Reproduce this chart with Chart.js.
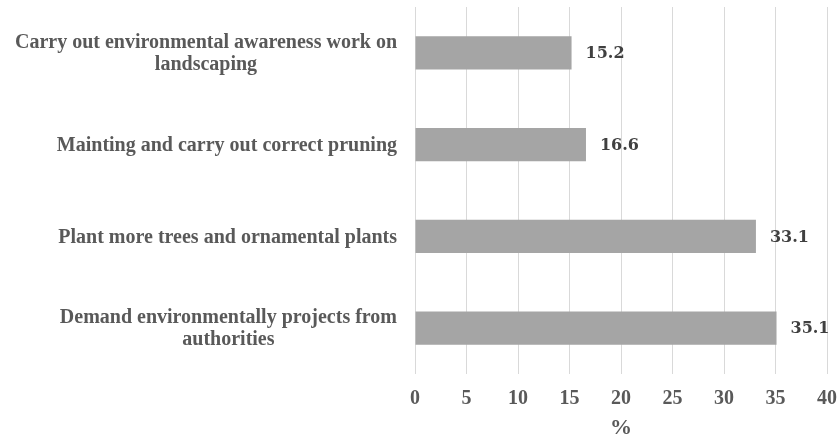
<!DOCTYPE html>
<html lang="en">
<head>
    <meta charset="UTF-8">
    <title>Actions</title>
    <script src="https://cdn.jsdelivr.net/npm/chart.js@4"></script>
    <style>
        body { margin: 0; background: #fff; }
    </style>
</head>
<body>
    <canvas id="bars" width="837" height="442"></canvas>
<script>
    // categories (top to bottom), each line of a label as its own string
    var actions = [
        ["Carry out environmental awareness work on", "landscaping"],
        ["Mainting and carry out correct pruning"],
        ["Plant more trees and ornamental plants"],
        ["Demand environmentally projects from", "authorities"]
    ];
    var percents = [15.2, 16.6, 33.1, 35.1];
    var xTicks = [0, 5, 10, 15, 20, 25, 30, 35, 40];

    var labelFont = "bold 20px 'Liberation Serif', 'Times New Roman', serif";
    var valueFont = "bold 16px 'DejaVu Serif', serif";

    // category labels: lines centred on each other, block right-aligned to the axis
    var catLabels = {
        id: 'catLabels',
        afterDraw(chart) {
            var c = chart.ctx, y = chart.scales.y;
            var right = chart.chartArea.left - 18, lh = 22;
            c.save();
            c.font = labelFont;
            c.fillStyle = '#595959';
            c.textBaseline = 'middle';
            c.textAlign = 'center';
            actions.forEach(function (lines, i) {
                var w = Math.max.apply(null, lines.map(function (s) { return c.measureText(s).width; }));
                var cx = right - w / 2;
                var cy = y.getPixelForValue(i) + 1;
                var y0 = cy - (lines.length - 1) * lh / 2;
                lines.forEach(function (s, k) { c.fillText(s, cx, y0 + k * lh); });
            });
            c.restore();
        }
    };

    // value next to each bar end
    var valueLabels = {
        id: 'valueLabels',
        afterDatasetsDraw(chart) {
            var c = chart.ctx;
            c.save();
            c.font = valueFont;
            c.fillStyle = '#404040';
            c.textBaseline = 'middle';
            c.textAlign = 'left';
            chart.getDatasetMeta(0).data.forEach(function (bar, i) {
                c.fillText(percents[i].toFixed(1), bar.x + 14, bar.y + 1);
            });
            c.restore();
        }
    };

    new Chart(document.getElementById('bars'), {
        type: 'bar',
        data: {
            labels: actions,
            datasets: [{
                data: percents,
                backgroundColor: '#a5a5a5',
                barPercentage: 0.36,
                categoryPercentage: 1
            }]
        },
        options: {
            indexAxis: 'y',
            responsive: false,
            animation: false,
            layout: { padding: { top: 7, right: 0, left: 0, bottom: 0 } },
            plugins: { legend: { display: false }, tooltip: { enabled: false } },
            scales: {
                x: {
                    min: 0,
                    max: 40,
                    afterBuildTicks(scale) { scale.ticks = xTicks.map(function (v) { return { value: v }; }); },
                    afterFit(scale) {
                        scale.height = 68;
                        scale.paddingLeft = 0;
                        scale.paddingRight = 10;
                    },
                    grid: { color: '#d9d9d9', lineWidth: 1, drawTicks: false },
                    border: { display: false },
                    ticks: {
                        padding: 13,
                        color: '#595959',
                        font: { family: "'Liberation Serif', serif", size: 20, weight: 'bold' }
                    },
                    title: {
                        display: true,
                        text: '%',
                        color: '#595959',
                        padding: { top: 2, bottom: 0 },
                        font: { family: "'Liberation Serif', serif", size: 22, weight: 'bold' }
                    }
                },
                y: {
                    grid: { display: false },
                    border: { display: false },
                    ticks: { display: false },
                    afterFit(scale) { scale.width = 415; }
                }
            }
        },
        plugins: [catLabels, valueLabels]
    });
</script>
</body>
</html>
